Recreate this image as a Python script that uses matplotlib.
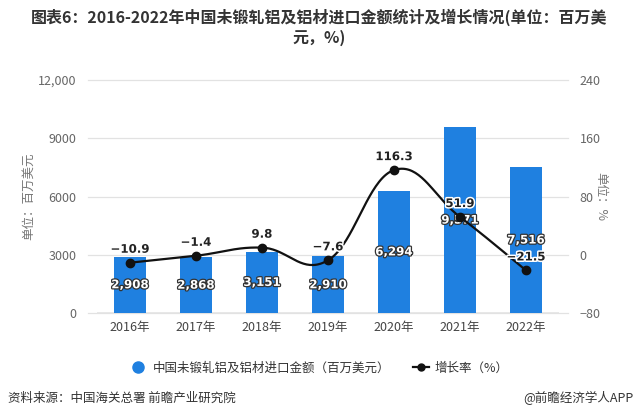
import numpy as np
import matplotlib
matplotlib.use("Agg")
import matplotlib.pyplot as plt
import matplotlib.patheffects as pe
from matplotlib.lines import Line2D

plt.rcParams["font.family"] = ["Noto Sans CJK SC", "DejaVu Sans"]

years = ["2016年", "2017年", "2018年", "2019年", "2020年", "2021年", "2022年"]
amount = [2908, 2868, 3151, 2910, 6294, 9571, 7516]
growth = [-10.9, -1.4, 9.8, -7.6, 116.3, 51.9, -21.5]
left_ticks = [0, 3000, 6000, 9000, 12000]
left_tick_labels = ["0", "3000", "6000", "9000", "12,000"]
right_ticks = [-80, 0, 80, 160, 240]

BAR = "#1f80e0"
GRID = "#e2e2e2"
TICK = "#666666"


def smooth_curve(xs, ys, k=0.2, n=40):
    # Catmull-Rom style bezier, just for drawing the line smoothly
    pts = np.column_stack([xs, ys]).astype(float)
    out = [pts[0]]
    for i in range(len(pts) - 1):
        p0 = pts[max(i - 1, 0)]
        p1 = pts[i]
        p2 = pts[i + 1]
        p3 = pts[min(i + 2, len(pts) - 1)]
        c1 = p1 + (p2 - p0) * k
        c2 = p2 - (p3 - p1) * k
        t = np.linspace(0, 1, n)[1:, None]
        seg = ((1 - t) ** 3) * p1 + 3 * ((1 - t) ** 2) * t * c1 + 3 * (1 - t) * t ** 2 * c2 + t ** 3 * p2
        out.extend(seg)
    out = np.array(out)
    return out[:, 0], out[:, 1]


fig = plt.figure(figsize=(6.39, 4.17), dpi=100)
ax = fig.add_axes([97 / 639, 1 - 313 / 417, 462 / 639, 233 / 417])
ax2 = ax.twinx()

x = np.arange(len(years))
ax.bar(x, amount, width=0.48, color=BAR, zorder=2)
ax.set_xlim(-0.5, len(years) - 0.5)
ax.set_ylim(0, 12000)
ax2.set_ylim(-80, 240)

for y in left_ticks:
    ax.axhline(y, xmin=-0.02, xmax=1.02, color=GRID, lw=0.9, zorder=0, clip_on=False)
ax.axhline(0, color="#999999", lw=1.0, zorder=1)

for a in (ax, ax2):
    for s in a.spines.values():
        s.set_visible(False)

ax.set_yticks(left_ticks)
ax.set_yticklabels(left_tick_labels)
ax.tick_params(axis="y", length=0, pad=15, labelsize=9, labelcolor=TICK)
ax2.set_yticks(right_ticks)
ax2.tick_params(axis="y", length=0, pad=15, labelsize=9, labelcolor=TICK)
ax.set_xticks(x)
ax.set_xticklabels(years)
ax.tick_params(axis="x", length=0, pad=6, labelsize=9, labelcolor="#444444")

ax.set_ylabel("单位：百万美元", fontsize=9, color="#777777")
ax2.set_ylabel("单位：%", fontsize=9, color="#777777", rotation=-90)
ax2.yaxis.set_label_coords(1.105, 0.5)
ax.yaxis.set_label_coords(-0.135, 0.5)

cx, cy = smooth_curve(x, growth)
ax2.plot(cx, cy, color="#111111", lw=1.6, zorder=3)
ax2.plot(x, growth, "o", color="#111111", ms=6, zorder=4)

white_stroke = [pe.withStroke(linewidth=2.2, foreground="white")]
dark_stroke = [pe.withStroke(linewidth=1.8, foreground="#333333")]

for xi, v in zip(x, amount):
    ax.text(xi, v / 2, f"{v:,}", ha="center", va="center", fontsize=8.5,
            fontweight="bold", color="white", path_effects=dark_stroke, zorder=5,
            family=["DejaVu Sans"])

for xi, g in zip(x, growth):
    lab = f"{g:.1f}".replace("-", "−")
    ax2.annotate(lab, (xi, g), xytext=(0, 5), textcoords="offset points",
                 ha="center", va="bottom", fontsize=8.5, fontweight="bold",
                 color="#222222", path_effects=white_stroke, zorder=6,
                 family=["DejaVu Sans"])

fig.text(0.5, 1 - 17 / 417, "图表6：2016-2022年中国未锻轧铝及铝材进口金额统计及增长情况(单位：百万美",
         ha="center", va="center", fontsize=11.5, fontweight="bold", color="#333333")
fig.text(0.5, 1 - 38 / 417, "元，%)", ha="center", va="center", fontsize=11.5,
         fontweight="bold", color="#333333")

handles = [
    Line2D([], [], marker="o", ls="none", color=BAR, ms=8),
    Line2D([], [], marker="o", color="#111111", ms=5, lw=1.6),
]
fig.legend(handles, ["中国未锻轧铝及铝材进口金额（百万美元）", "增长率（%）"],
           loc="center", bbox_to_anchor=(0.5, 1 - 368 / 417), ncol=2, frameon=False,
           fontsize=9, handlelength=1.3, columnspacing=1.8, handletextpad=0.5,
           labelcolor="#333333")

fig.text(8 / 639, 1 - 398 / 417, "资料来源：中国海关总署 前瞻产业研究院", ha="left", va="center",
         fontsize=9, color="#333333")
fig.text(633 / 639, 1 - 398 / 417, "@前瞻经济学人APP", ha="right", va="center",
         fontsize=9, color="#333333")

fig.savefig("out.png", dpi=100)
